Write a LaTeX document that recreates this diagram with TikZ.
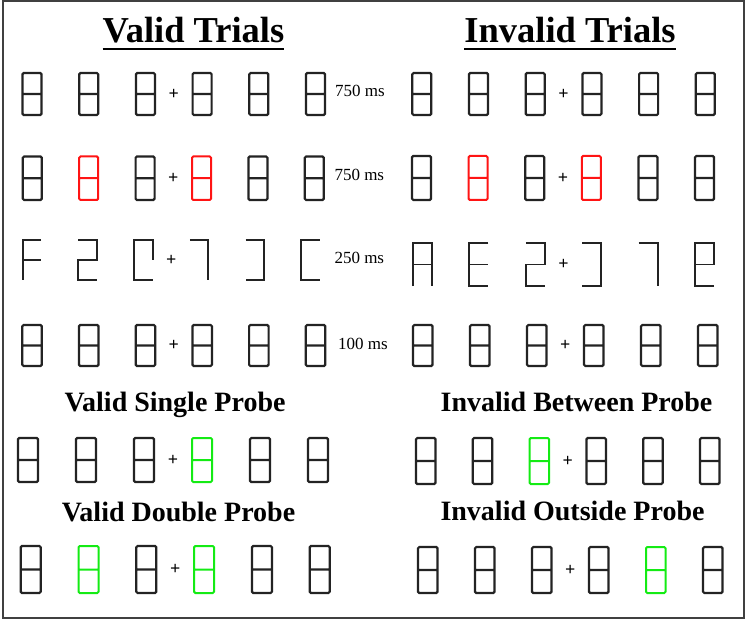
\documentclass[tikz,border=0pt]{standalone}
\usepackage{fontspec}
\setmainfont{Liberation Serif}
\definecolor{segdark}{RGB}{35,35,35}
\definecolor{segred}{RGB}{255,20,20}
\definecolor{seggreen}{RGB}{20,235,20}
\tikzset{
	idle/.style={color=segdark, line width=2.2pt},
	cue/.style={color=segred, line width=2pt},
	probe/.style={color=seggreen, line width=2pt},
	letter/.style={color=segdark, line width=1.9pt},
	heading/.style={font=\fontsize{36.5}{40}\selectfont\bfseries, inner sep=0pt, anchor=base},
	subheading/.style={font=\fontsize{28}{32}\selectfont\bfseries, inner sep=0pt, anchor=base},
	duration/.style={font=\fontsize{17}{20}\selectfont, inner sep=0pt, anchor=base west},
	fixation/.style={font=\fontsize{18}{18}\selectfont\bfseries, inner sep=0pt},
	uline/.style={line width=2.6pt},
	seg8/.pic={\draw[rounded corners=1.3pt] (0,0) rectangle (1,1) (0,.5) -- (1,.5);},
	segF/.pic={\draw (1,0) -- (0,0) -- (0,1) (0,.5) -- (1,.5);},
	seg2/.pic={\draw (0,0) -- (1,0) -- (1,.5) -- (0,.5) -- (0,1) -- (1,1);},
	segC/.pic={\draw (1,.5) -- (1,0) -- (0,0) -- (0,1) -- (1,1);},
	seg7/.pic={\draw (0,0) -- (1,0) -- (1,1);},
	segJ/.pic={\draw (0,0) -- (1,0) -- (1,1) -- (0,1);},
	segL/.pic={\draw (1,0) -- (0,0) -- (0,1) -- (1,1);},
	segA/.pic={\draw (0,1) -- (0,0) -- (1,0) -- (1,1) (0,.5) -- (1,.5);},
	segE/.pic={\draw (1,0) -- (0,0) -- (0,1) -- (1,1) (0,.5) -- (1,.5);},
	sege/.pic={\draw (1,1) -- (0,1) -- (0,0) -- (1,0) -- (1,.5) -- (0,.5);},
}
\newcommand{\segrow}[7]{%
	\foreach \g/\c [count=\i from 0] in {#7}{
		\begin{scope}[shift={(#2+\i*#3,#4)}, x={(#5pt,0pt)}, y={(0pt,-#6pt)}]
			\pic[\c] {\g};
		\end{scope}
	}
	\node[fixation] (#1) at (#2+2.5*#3+0.5*#5,#4+0.5*#6) {+};
}
\begin{document}
\begin{tikzpicture}[x=1pt, y=-1pt]
	\useasboundingbox (0,0) rectangle (749,620);
	\draw[line width=2pt, black!75] (2.5,1.5) rectangle (743.5,618);
	\node[heading] (validhead) at (193.5,43) {Valid Trials};
	\node[heading] (invalidhead) at (570,43) {Invalid Trials};
	\draw[uline] ([yshift=-6pt]validhead.base west) -- ([yshift=-6pt]validhead.base east);
	\draw[uline] ([yshift=-6pt]invalidhead.base west) -- ([yshift=-6pt]invalidhead.base east);
	\segrow{vfix1}{22.5}{56.7}{73}{19}{42}{seg8/idle,seg8/idle,seg8/idle,seg8/idle,seg8/idle,seg8/idle}
	\segrow{vfix2}{22.8}{56.4}{156.5}{19}{43.5}{seg8/idle,seg8/cue,seg8/idle,seg8/cue,seg8/idle,seg8/idle}
	\segrow{vfix3}{22.7}{55.7}{240}{18.5}{40}{segF/letter,seg2/letter,segC/letter,seg7/letter,segJ/letter,segL/letter}
	\segrow{vfix4}{22.3}{56.7}{325}{19.5}{41}{seg8/idle,seg8/idle,seg8/idle,seg8/idle,seg8/idle,seg8/idle}
	\segrow{vfix5}{18}{58}{438}{20}{44}{seg8/idle,seg8/idle,seg8/idle,seg8/probe,seg8/idle,seg8/idle}
	\segrow{vfix6}{20.7}{57.8}{546}{20}{47}{seg8/idle,seg8/probe,seg8/idle,seg8/probe,seg8/idle,seg8/idle}
	\segrow{ifix1}{412.3}{56.7}{73}{19}{42}{seg8/idle,seg8/idle,seg8/idle,seg8/idle,seg8/idle,seg8/idle}
	\segrow{ifix2}{412}{56.6}{156}{19}{44}{seg8/idle,seg8/cue,seg8/idle,seg8/cue,seg8/idle,seg8/idle}
	\segrow{ifix3}{413}{56.4}{243}{19}{43}{segA/letter,segE/letter,seg2/letter,segJ/letter,seg7/letter,sege/letter}
	\segrow{ifix4}{413}{57}{325}{19.5}{41}{seg8/idle,seg8/idle,seg8/idle,seg8/idle,seg8/idle,seg8/idle}
	\segrow{ifix5}{416}{56.8}{438}{19.5}{46}{seg8/idle,seg8/idle,seg8/probe,seg8/idle,seg8/idle,seg8/idle}
	\segrow{ifix6}{418}{57}{547}{19.5}{46}{seg8/idle,seg8/idle,seg8/idle,seg8/idle,seg8/probe,seg8/idle}
	\node[duration] (dur1) at (335,97) {750 ms};
	\node[duration] (dur2) at (334.3,180.7) {750 ms};
	\node[duration] (dur3) at (334.3,263.3) {250 ms};
	\node[duration] (dur4) at (338,349.3) {100 ms};
	\node[subheading] (vsingle) at (175,411.7) {Valid Single Probe};
	\node[subheading] (ibetween) at (576.5,411.7) {Invalid Between Probe};
	\node[subheading] (vdouble) at (178.5,521.7) {Valid Double Probe};
	\node[subheading] (ioutside) at (572.5,520) {Invalid Outside Probe};
\end{tikzpicture}
\end{document}
